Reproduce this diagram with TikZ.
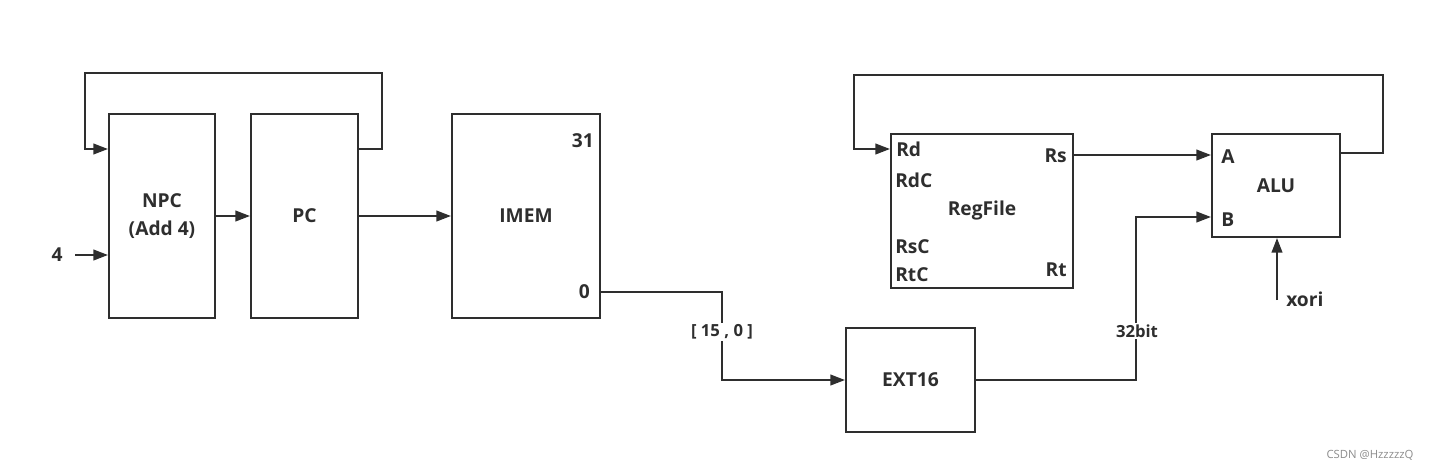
\documentclass[tikz,border=0pt]{standalone}
\usepackage{fontspec}
\setmainfont{Open Sans}
\usetikzlibrary{arrows.meta}
\tikzset{
  box/.style={draw=black!82, line width=1.5pt, inner sep=0pt, font=\bfseries\fontsize{14.4}{17}\selectfont, text=black!82, align=center},
  lbl/.style={inner sep=0pt, font=\bfseries\fontsize{14.4}{17}\selectfont, text=black!82},
  wire/.style={draw=black!82, line width=1.5pt},
  arr/.style={wire, -{Triangle[length=11pt,width=8pt]}},
  tag/.style={fill=white, inner sep=1.5pt, font=\bfseries\fontsize{12.5}{15}\selectfont, text=black!82},
}
\begin{document}
\begin{tikzpicture}[x=0.75pt,y=-0.75pt]
\useasboundingbox (0,0) rectangle (1432,472);
% boxes
\node[box, minimum width=79.5pt, minimum height=153pt] (npc) at (162,216) {NPC\\[4pt](Add 4)};
\node[box, minimum width=80.25pt, minimum height=153pt] (pc) at (304.5,216) {PC};
\node[box, minimum width=111pt, minimum height=153pt] (imem) at (526,216) {IMEM};
\node[box, minimum width=96.75pt, minimum height=78pt] (ext) at (910.5,380) {EXT16};
\node[box, minimum width=136.5pt, minimum height=115.5pt] (rf) at (982,211) {RegFile};
\node[box, minimum width=96pt, minimum height=77.25pt] (alu) at (1276,185.5) {ALU};
% port labels
\node[lbl, anchor=east] (i31) at (594,141) {31};
\node[lbl, anchor=east] (i0) at (590,292) {0};
\node[lbl, anchor=west] (rd) at (896,149) {Rd};
\node[lbl, anchor=west] (rdc) at (895,180) {RdC};
\node[lbl, anchor=west] (rsc) at (895,247) {RsC};
\node[lbl, anchor=west] (rtc) at (895,275) {RtC};
\node[lbl, anchor=east] (rs) at (1067,156) {Rs};
\node[lbl, anchor=east] (rt) at (1067,270) {Rt};
\node[lbl, anchor=west] (pa) at (1221,157) {A};
\node[lbl, anchor=west] (pb) at (1221,220) {B};
\node[lbl] (four) at (57,255) {4};
\node[lbl, anchor=west] (xori) at (1286,299) {xori};
% coordinates
\coordinate (l1a) at (382,149);
\coordinate (l1b) at (382,73);
\coordinate (l1c) at (85,73);
\coordinate (l1d) at (85,149);
\coordinate (fourend) at (75,255);
\coordinate (x1) at (1277,300);
\coordinate (w1) at (722,292);
\coordinate (w2) at (722,380);
\coordinate (e1) at (1136,380);
\coordinate (e2) at (1136,217);
\coordinate (l2a) at (1383,153);
\coordinate (l2b) at (1383,75);
\coordinate (l2c) at (854,75);
\coordinate (l2d) at (854,149);
% connectors
\draw[arr] (pc.east |- l1a) -- (l1a) -- (l1b) -- (l1c) -- (l1d) -- (npc.west |- l1d);
\draw[arr] (fourend) -- (npc.west |- fourend);
\draw[arr] (npc.east) -- (pc.west);
\draw[arr] (pc.east) -- (imem.west);
\draw[arr] (imem.east |- w1) -- (w1) -- (w2) -- (ext.west);
\node[tag] (t1) at (722,332) {[ 15 , 0 ]};
\draw[arr] (ext.east) -- (e1) -- (e2) -- (alu.west |- e2);
\node[tag] (t2) at (1137,331) {32bit};
\draw[arr] (rf.east |- 0,155) -- (alu.west |- 0,155);
\draw[arr] (x1) -- (alu.south -| x1);
\draw[arr] (alu.east |- l2a) -- (l2a) -- (l2b) -- (l2c) -- (l2d) -- (rf.west |- l2d);
% watermark
\node[inner sep=0pt, font=\fontsize{8.5}{10}\selectfont, text=black!45] (wm) at (1370,455) {CSDN @HzzzzzQ};
\end{tikzpicture}
\end{document}
